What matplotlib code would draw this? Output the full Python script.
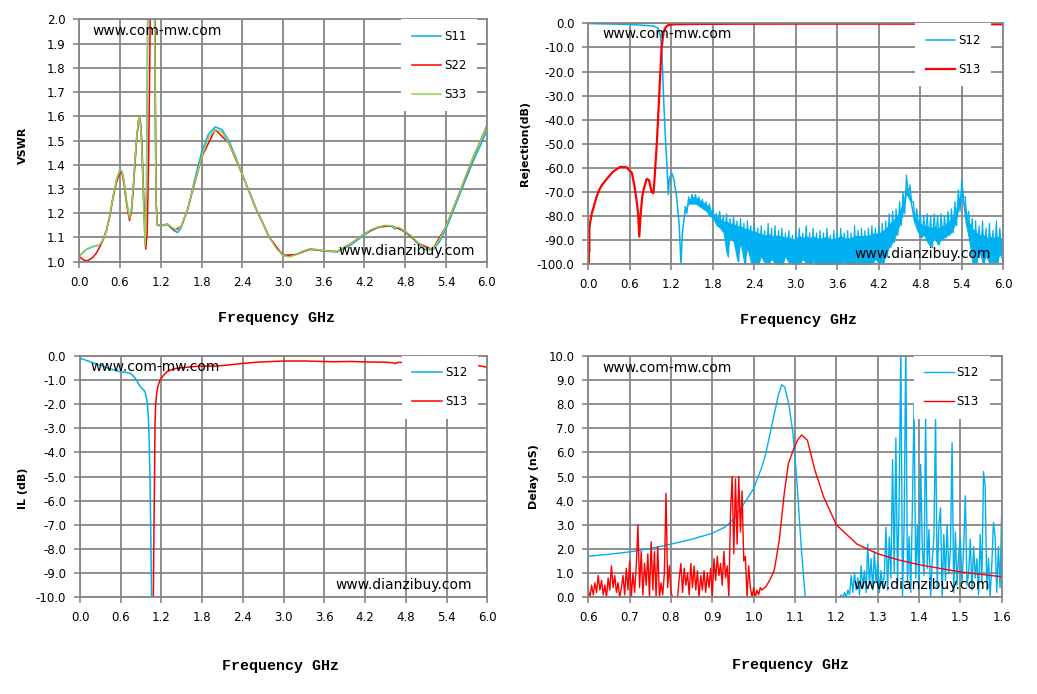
import numpy as np
import matplotlib
matplotlib.use('Agg')
import matplotlib.pyplot as plt

BLUE = '#00B0F0'
RED = '#FF0000'
GREEN = '#92D050'
GRID = '#868686'

# ---------------- VSWR (top left) ----------------
vswr_f = [0.0, 0.05, 0.1, 0.15, 0.2, 0.25, 0.3, 0.35, 0.4, 0.45,
          0.5, 0.55, 0.6, 0.63, 0.66, 0.7, 0.74, 0.77, 0.8, 0.84,
          0.88, 0.9, 0.92, 0.95, 0.97, 0.99, 1.005, 1.015, 1.10, 1.112,
          1.13, 1.15, 1.2, 1.25, 1.3, 1.35, 1.4, 1.45, 1.5, 1.6,
          1.7, 1.8, 1.9, 2.0, 2.1, 2.2, 2.3, 2.4, 2.5, 2.6,
          2.7, 2.8, 2.9, 3.0, 3.1, 3.2, 3.3, 3.4, 3.5, 3.6,
          3.7, 3.8, 3.9, 4.0, 4.1, 4.2, 4.3, 4.4, 4.5, 4.6,
          4.65, 4.7, 4.8, 4.9, 5.0, 5.1, 5.2, 5.3, 5.4, 5.5,
          5.6, 5.7, 5.8, 5.9, 6.0]
vswr_s11 = [1.022, 1.038, 1.05, 1.056, 1.062, 1.065, 1.068, 1.09, 1.13, 1.19,
            1.27, 1.34, 1.38, 1.372, 1.33, 1.24, 1.185, 1.22, 1.33, 1.50,
            1.60, 1.57, 1.48, 1.22, 1.07, 1.3, 1.9, 2.3, 2.3, 1.9,
            1.25, 1.15, 1.148, 1.15, 1.153, 1.14, 1.127, 1.12, 1.14, 1.22,
            1.34, 1.45, 1.525, 1.556, 1.545, 1.50, 1.435, 1.36, 1.29, 1.22,
            1.16, 1.10, 1.058, 1.028, 1.026, 1.03, 1.043, 1.05, 1.048, 1.043,
            1.042, 1.04, 1.055, 1.07, 1.09, 1.11, 1.13, 1.14, 1.148, 1.145,
            1.135, 1.14, 1.12, 1.1, 1.07, 1.05, 1.048, 1.08, 1.135, 1.205,
            1.275, 1.345, 1.415, 1.475, 1.54]
vswr_s33 = [1.025, 1.035, 1.05, 1.058, 1.063, 1.066, 1.07, 1.09, 1.13, 1.19,
            1.27, 1.34, 1.38, 1.37, 1.33, 1.24, 1.18, 1.22, 1.33, 1.50,
            1.60, 1.57, 1.48, 1.22, 1.065, 1.3, 1.9, 2.3, 2.3, 1.9,
            1.25, 1.152, 1.15, 1.152, 1.155, 1.145, 1.135, 1.13, 1.145, 1.22,
            1.33, 1.43, 1.51, 1.545, 1.535, 1.49, 1.43, 1.36, 1.29, 1.22,
            1.16, 1.10, 1.055, 1.025, 1.02, 1.03, 1.045, 1.053, 1.05, 1.045,
            1.043, 1.042, 1.06, 1.075, 1.095, 1.115, 1.133, 1.143, 1.15, 1.148,
            1.14, 1.143, 1.125, 1.105, 1.075, 1.055, 1.05, 1.09, 1.145, 1.215,
            1.285, 1.36, 1.43, 1.495, 1.56]
vswr_s22_f = [0.0, 0.05, 0.1, 0.15, 0.2, 0.25, 0.3, 0.35, 0.4, 0.45,
              0.5, 0.55, 0.6, 0.63, 0.66, 0.7, 0.74, 0.77, 0.8, 0.84,
              0.88, 0.9, 0.92, 0.95, 0.978, 1.0, 1.02, 1.035, 1.046, 1.055,
              1.105, 1.115, 1.13, 1.15, 1.2, 1.3, 1.4, 1.5, 1.6, 1.8,
              2.0, 2.2, 2.4, 2.6, 2.8, 3.0, 3.2, 3.4, 3.6, 3.8,
              4.0, 4.2, 4.4, 4.6, 4.8, 5.0, 5.2, 5.4, 5.6, 5.8, 6.0]
vswr_s22 = [1.02, 1.01, 1.003, 1.008, 1.018, 1.035, 1.06, 1.09, 1.13, 1.19,
            1.27, 1.33, 1.37, 1.365, 1.32, 1.23, 1.17, 1.21, 1.32, 1.49,
            1.60, 1.58, 1.50, 1.25, 1.052, 1.12, 1.4, 1.75, 2.05, 2.3,
            2.3, 1.9, 1.25, 1.152, 1.15, 1.155, 1.13, 1.145, 1.22, 1.43,
            1.545, 1.49, 1.36, 1.22, 1.10, 1.025, 1.03, 1.053, 1.045, 1.042,
            1.075, 1.115, 1.143, 1.148, 1.125, 1.075, 1.05, 1.145, 1.285, 1.43, 1.56]

# ---------------- Rejection (top right) ----------------
rej_s13_f = [0.0, 0.003, 0.006, 0.009, 0.012, 0.015, 0.02, 0.03, 0.05, 0.08,
             0.12, 0.16, 0.2, 0.27, 0.36, 0.46, 0.55, 0.63, 0.67, 0.70,
             0.72, 0.737, 0.757, 0.78, 0.80, 0.843, 0.877, 0.916, 0.94, 0.95,
             0.99, 1.02, 1.04, 1.06, 1.09, 1.12, 1.16, 1.25, 1.5, 2.0,
             3.0, 4.0, 5.0, 6.0]
rej_s13 = [-100, -86, -100, -84, -95, -85, -84, -82, -79, -76,
           -72, -69, -67, -64.5, -61.5, -59.6, -59.7, -62, -68, -74,
           -79, -88.5, -79, -72, -69, -64.6, -65, -70, -70.5, -68,
           -50, -33, -21, -10, -3.5, -1.5, -0.7, -0.4, -0.3, -0.2,
           -0.15, -0.15, -0.2, -0.4]
rej_s12_f = [0.0, 0.3, 0.6, 0.8, 0.94, 1.01, 1.04, 1.06, 1.075, 1.09,
             1.11, 1.13, 1.145, 1.157, 1.17, 1.18, 1.205, 1.24, 1.28, 1.315,
             1.34, 1.36, 1.40]
rej_s12 = [-0.1, -0.3, -0.5, -0.8, -1.1, -2, -5, -10, -20, -32,
           -45, -55, -64, -71, -65, -63.6, -62, -65, -73, -84,
           -100, -87, -77.5]
# noisy S12 stop band 1.40 .. 6.00 GHz (0.05 GHz step)
rej_band_start = 1.40
rej_band_step = 0.05
rej_band_hi = [-76, -72, -71, -71, -72, -73, -74, -75,
               -77, -79, -78, -80, -79, -81, -80, -82, -81, -83,
               -82, -84, -83, -85, -84, -86, -83, -85, -84, -86,
               -85, -87, -86, -88, -87, -85, -87, -84, -87, -85,
               -87, -86, -87, -85, -88, -86, -87, -85, -87, -86,
               -87, -84, -86, -85, -86, -85, -84, -85, -84, -83,
               -82, -79, -78, -77, -74, -70, -63, -67, -74, -77,
               -79, -80, -79, -80, -79, -80, -79, -80, -78, -77,
               -74, -69, -65, -72, -78, -81, -82, -84, -82, -85,
               -83, -86, -82, -85, -84]
rej_band_top = [-77, -73, -72, -72, -73, -74, -75, -76,
                -79, -80, -81, -82, -82, -83, -83, -84, -84, -85,
                -85, -86, -86, -87, -87, -88, -87, -88, -88, -88,
                -88, -89, -88, -90, -89, -88, -89, -88, -89, -88,
                -89, -89, -89, -88, -90, -89, -89, -88, -89, -89,
                -89, -88, -88, -88, -88, -88, -87, -87, -87, -86,
                -85, -83, -82, -80, -78, -74, -67, -71, -78, -81,
                -83, -84, -84, -85, -84, -85, -84, -84, -82, -81,
                -78, -73, -69, -76, -82, -85, -86, -88, -87, -89,
                -88, -89, -88, -89, -89]
rej_band_lo = [-79, -75, -75, -75, -76, -77, -78, -80,
               -81, -84, -85, -87, -97, -89, -91, -99, -92, -100,
               -94, -100, -100, -100, -97, -100, -100, -98, -100, -100,
               -100, -97, -100, -100, -100, -100, -98, -100, -100, -99,
               -100, -100, -100, -100, -100, -100, -100, -100, -99, -100,
               -100, -100, -100, -100, -100, -100, -100, -98, -100, -100,
               -97, -93, -91, -88, -84, -79, -71, -74, -82, -86,
               -89, -88, -91, -93, -89, -92, -90, -89, -88, -87,
               -84, -78, -72, -83, -90, -100, -100, -95, -100, -97,
               -100, -99, -100, -96, -100]

# ---------------- IL (bottom left) ----------------
il_s12_f = [0.0, 0.1, 0.2, 0.3, 0.4, 0.5, 0.59, 0.66, 0.74, 0.79,
            0.83, 0.88, 0.93, 0.96, 0.99, 1.01, 1.02, 1.03, 1.04, 1.05, 1.055]
il_s12 = [-0.1, -0.2, -0.3, -0.4, -0.5, -0.6, -0.66, -0.68, -0.73, -0.85,
          -1.0, -1.25, -1.4, -1.5, -1.9, -2.7, -3.6, -4.9, -6.8, -9.0, -10.2]
il_s13_f = [1.08, 1.09, 1.1, 1.105, 1.115, 1.13, 1.15, 1.18, 1.22, 1.28,
            1.35, 1.42, 1.6, 1.77, 2.0, 2.2, 2.4, 2.6, 2.75, 3.0,
            3.3, 3.73, 4.0, 4.22, 4.5, 4.61, 4.64, 4.67, 4.79, 5.0,
            5.3, 5.6, 5.79, 6.0]
il_s13 = [-10.2, -7, -4.5, -2.8, -2.0, -1.56, -1.25, -1.0, -0.85, -0.66,
          -0.58, -0.52, -0.47, -0.43, -0.43, -0.38, -0.32, -0.27, -0.25, -0.22,
          -0.22, -0.25, -0.24, -0.26, -0.27, -0.29, -0.33, -0.28, -0.27, -0.28,
          -0.3, -0.33, -0.37, -0.48]

# ---------------- Delay (bottom right) ----------------
dl_s12_f = [0.6, 0.65, 0.7, 0.75, 0.8, 0.85, 0.9, 0.93, 0.95, 0.97,
            1.0, 1.02, 1.03, 1.04, 1.05, 1.06, 1.068, 1.075, 1.085, 1.095,
            1.1, 1.105, 1.11, 1.115, 1.12, 1.125]
dl_s12 = [1.7, 1.78, 1.88, 2.02, 2.2, 2.4, 2.65, 2.9, 3.2, 3.7,
          4.5, 5.4, 6.0, 6.8, 7.6, 8.4, 8.8, 8.7, 8.0, 6.8,
          5.8, 4.7, 3.4, 2.1, 1.0, 0.0]
# noisy S12 above 1.2 GHz, 0.004 GHz step
dl_s12_noise_start = 1.200
dl_step = 0.004
dl_s12_noise = [0, 0, 0, 0.1, 0.0, 0.2, 0.0, 0.3, 0.1, 0.9,
                0.2, 1.0, 0.3, 0.8, 0.1, 1.3, 0.4, 1.1, 0.2, 2.2,
                0.5, 1.6, 0.3, 1.9, 0.6, 1.5, 0.2, 1.1, 0.4, 0.9,
                2.9, 0.3, 2.5, 0.8, 5.7, 1.0, 6.6, 0.5, 4.1, 10.5,
                0.0, 3.0, 10.5, 0.6, 2.5, 0.2, 3.8, 8.0, 0.8, 3.0,
                0.3, 5.5, 2.0, 0.9, 7.5, 1.2, 2.8, 0.0, 1.5, 2.5,
                7.5, 0.4, 3.0, 3.7, 0.0, 2.6, 0.7, 3.0, 1.0, 2.0,
                6.4, 0.2, 2.7, 0.5, 1.8, 2.4, 0.6, 2.1, 4.2, 0.5,
                1.0, 2.4, 0.3, 2.1, 0.8, 1.6, 0.1, 2.6, 0.6, 5.2,
                4.6, 0.3, 1.6, 0.0, 1.3, 3.1, 2.5, 0.2, 2.1, 0.4,
                3.6]
# noisy S13 below 1.02 GHz, 0.004 GHz step
dl_s13_noise_start = 0.600
dl_s13_noise = [0.3, 0.0, 0.5, 0.1, 0.6, 0.2, 0.9, 0.3, 0.7, 0.1,
                0.5, 0.0, 0.8, 0.3, 1.3, 0.4, 0.9, 0.2, 0.6, 0.0,
                0.4, 0.9, 0.1, 1.2, 0.3, 1.5, 0.0, 1.0, 0.2, 1.3,
                3.0, 0.4, 1.9, 0.1, 1.4, 0.5, 1.8, 0.0, 2.3, 0.3,
                1.9, 0.0, 2.1, 0.0, 0.6, 0.1, 1.0, 4.3, 0.4, 1.3,
                0.2, 0.0, 0.0, 0.0, 0.0, 0.8, 1.4, 0.2, 1.2, 0.5,
                1.0, 0.1, 1.4, 0.4, 1.3, 0.3, 1.1, 0.0, 0.9, 0.3,
                1.1, 0.2, 1.0, 0.4, 1.2, 0.0, 1.6, 0.7, 1.7, 0.9,
                1.4, 0.5, 1.9, 0.8, 1.3, 0.0, 3.5, 5.0, 1.8, 4.9,
                2.2, 5.0, 2.7, 4.4, 1.5, 1.7, 0.0, 1.3, 0.4, 0.0,
                0.4, 0.0, 0.3, 0.1, 0.4]
dl_s13_f = [1.02, 1.03, 1.04, 1.05, 1.062, 1.074, 1.084, 1.096, 1.106, 1.116,
            1.13, 1.148, 1.169, 1.2, 1.25, 1.3, 1.35, 1.4, 1.45, 1.5,
            1.55, 1.6]
dl_s13 = [0.3, 0.45, 0.75, 1.13, 2.37, 4.3, 5.54, 6.1, 6.5, 6.72,
          6.5, 5.27, 4.17, 3.0, 2.2, 1.8, 1.55, 1.35, 1.2, 1.05,
          0.95, 0.85]

W, H = 1037, 694
fig = plt.figure(figsize=(W / 100, H / 100), dpi=100)


def add_axes(x0, x1, y0, y1):
    return fig.add_axes([x0 / W, 1 - y1 / H, (x1 - x0) / W, (y1 - y0) / H])


def style(ax, xlim, xticks, ylim, yticks, yfmt):
    ax.set_xlim(*xlim)
    ax.set_ylim(*ylim)
    ax.set_xticks(xticks)
    ax.set_yticks(yticks)
    ax.set_xticklabels([f'{t:.1f}' for t in xticks])
    ax.set_yticklabels([yfmt.format(t) for t in yticks])
    ax.grid(True, color=GRID, linewidth=1.3)
    ax.set_axisbelow(True)
    for s in ax.spines.values():
        s.set_color(GRID)
        s.set_linewidth(1.3)
    ax.tick_params(axis='both', colors=GRID, labelcolor='black', labelsize=8.5,
                   length=4, width=1.2, direction='out')
    ax.tick_params(axis='y', pad=6)
    ax.tick_params(axis='x', pad=6)


def legend(ax, x):
    leg = ax.legend(loc='upper left', bbox_to_anchor=(x, 1.0), frameon=True,
                    facecolor='white', edgecolor='none', framealpha=1.0,
                    fancybox=False, fontsize=8.5, handlelength=2.5,
                    handletextpad=0.25, labelspacing=1.35, borderpad=0.9,
                    borderaxespad=0)
    leg.set_zorder(10)


def wm(x, y, s):
    fig.text(x / W, 1 - y / H, s, fontsize=10, va='center', ha='left', color='black')


LBL = dict(fontsize=10.8, fontweight='bold', family=['Liberation Mono', 'DejaVu Sans Mono'],
           ha='center', va='center')
YLBL = dict(fontsize=8, fontweight='bold', rotation=90, ha='center', va='center')

# --- Top-left VSWR
ax1 = add_axes(79.3, 486.7, 19.3, 261.7)
ax1.plot(vswr_f, vswr_s11, color=BLUE, lw=1.1, label='S11')
ax1.plot(vswr_s22_f, vswr_s22, color=RED, lw=1.1, label='S22')
ax1.plot(vswr_f, vswr_s33, color=GREEN, lw=1.1, label='S33')
style(ax1, (0, 6), np.arange(0, 6.01, 0.6), (1.0, 2.0), np.arange(1.0, 2.01, 0.1), '{:.1f}')
legend(ax1, 0.79)
fig.text(22.5 / W, 1 - 145 / H, 'VSWR', **YLBL)
fig.text(276 / W, 1 - 318 / H, 'Frequency GHz', **LBL)
wm(92, 31, 'www.com-mw.com')
wm(338, 251, 'www.dianzibuy.com')

# --- Top-right Rejection
ax2 = add_axes(588.3, 1003.3, 23.3, 264.3)
ax2.plot(rej_s12_f, rej_s12, color=BLUE, lw=1.1, label='S12')
n = len(rej_band_hi)
bf = rej_band_start + rej_band_step * np.arange(n)
ax2.fill_between(bf, rej_band_lo, rej_band_top, color=BLUE, lw=0)
zx = np.ravel(np.column_stack([bf, bf + rej_band_step / 2]))
zy = np.ravel(np.column_stack([rej_band_hi, rej_band_lo]))
ax2.plot(np.concatenate([[rej_s12_f[-1]], zx[:-1]]),
         np.concatenate([[rej_s12[-1]], zy[:-1]]), color=BLUE, lw=0.9)
ax2.plot(rej_s13_f, rej_s13, color=RED, lw=1.6, label='S13')
style(ax2, (0, 6), np.arange(0, 6.01, 0.6), (-100, 0), np.arange(-100, 0.1, 10), '{:.1f}')
legend(ax2, 0.787)
fig.text(525 / W, 1 - 143 / H, 'Rejection(dB)', **YLBL)
fig.text(798 / W, 1 - 320 / H, 'Frequency GHz', **LBL)
wm(602, 34, 'www.com-mw.com')
wm(854, 254, 'www.dianzibuy.com')

# --- Bottom-left IL
ax3 = add_axes(80, 487.3, 355.7, 597.3)
ax3.plot(il_s12_f, il_s12, color=BLUE, lw=1.1, label='S12')
ax3.plot(il_s13_f, il_s13, color=RED, lw=1.1, label='S13')
style(ax3, (0, 6), np.arange(0, 6.01, 0.6), (-10, 0), np.arange(-10, 0.01, 1), '{:.1f}')
legend(ax3, 0.79)
fig.text(23 / W, 1 - 488 / H, 'IL (dB)', **YLBL)
fig.text(280 / W, 1 - 666 / H, 'Frequency GHz', **LBL)
wm(90, 367, 'www.com-mw.com')
wm(335, 585, 'www.dianzibuy.com')

# --- Bottom-right Delay
ax4 = add_axes(588.3, 1001.7, 355.7, 597.3)
ax4.plot(dl_s12_f, dl_s12, color=BLUE, lw=1.0, label='S12')
nf = dl_s12_noise_start + dl_step * np.arange(len(dl_s12_noise))
ax4.plot(nf, dl_s12_noise, color=BLUE, lw=1.0)
rf = dl_s13_noise_start + dl_step * np.arange(len(dl_s13_noise))
ax4.plot(np.concatenate([rf, dl_s13_f]), np.concatenate([dl_s13_noise, dl_s13]),
         color=RED, lw=1.0, label='S13')
style(ax4, (0.6, 1.6), np.arange(0.6, 1.601, 0.1), (0, 10), np.arange(0, 10.01, 1), '{:.1f}')
legend(ax4, 0.787)
fig.text(534 / W, 1 - 477 / H, 'Delay (nS)', **YLBL)
fig.text(790 / W, 1 - 665 / H, 'Frequency GHz', **LBL)
wm(602, 368, 'www.com-mw.com')
wm(853, 585, 'www.dianzibuy.com')

fig.savefig('out.png', dpi=100)
